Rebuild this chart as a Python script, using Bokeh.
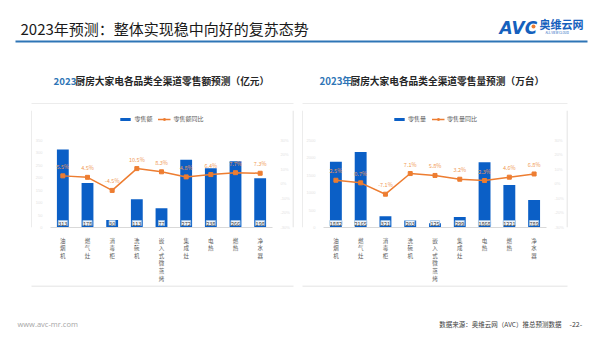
from bokeh.plotting import figure
from bokeh.models import (ColumnDataSource, FactorRange, Range1d, LinearAxis, LabelSet,
                          FixedTicker, PrintfTickFormatter, Legend, LegendItem)
from bokeh.layouts import column, row
from bokeh.embed import file_html
from bokeh.resources import INLINE
from bokeh.core.properties import value

FONT = "Noto Sans CJK SC"

categories = ["油烟机", "燃气灶", "消毒柜", "洗碗机", "嵌入式微蒸烤", "集成灶", "电热", "燃热", "净水器"]
sales_value = [313, 178, 30, 113, 77, 272, 238, 266, 198]
sales_value_yoy = [5.5, 4.5, -4.5, 10.5, 8.3, 4.8, 6.4, 7.7, 7.3]
sales_volume = [1882, 2165, 321, 203, 125, 299, 1868, 1221, 789]
sales_volume_yoy = [2.5, 0.7, -7.1, 7.1, 5.8, 3.2, 2.3, 4.6, 6.8]
value_ticks = [0, 50, 100, 150, 200, 250, 300, 350]
volume_ticks = [0, 500, 1000, 1500, 2000, 2500]
pct_ticks = [-30, -20, -10, 0, 10, 20, 30]

BLUE = "#0b5fc6"
ORANGE = "#ed7d31"
CARD = "#d9d9d9"

# frame: ~118 px tall; the axis ticks occupy the lower part, the legend sits in the top strip
HEADROOM = 118 / 88


def deco(width, height, y0, y1):
    f = figure(width=width, height=height, x_range=Range1d(0, width), y_range=Range1d(y0, y1),
               output_backend="svg", toolbar_location=None, x_axis_location=None,
               y_axis_location=None, min_border=0, min_border_left=0, min_border_right=0,
               min_border_top=0, min_border_bottom=0, outline_line_color=None)
    f.grid.visible = False
    return f


def make_chart(width, mb_left, mb_right, vals, yoys, ytop, yticks, bar_name, line_name):
    factors = ["\n".join(c) for c in categories]
    src = ColumnDataSource(dict(
        x=factors, v=vals, p=yoys, zero=[0] * len(vals),
        vlab=[str(v) for v in vals], plab=[f"{q:.1f}%" for q in yoys]))
    p = figure(width=width, height=181, x_range=FactorRange(factors=factors, range_padding=0),
               y_range=Range1d(0, ytop * HEADROOM), output_backend="svg", toolbar_location=None,
               min_border_left=mb_left, min_border_right=mb_right, min_border_top=6,
               min_border_bottom=55, outline_line_color=None)
    p.grid.visible = False
    p.extra_y_ranges = {"pct": Range1d(-30, -30 + 60 * HEADROOM)}

    p.yaxis.ticker = FixedTicker(ticks=yticks)
    for ax in [p.yaxis[0]]:
        ax.axis_line_color = None
        ax.major_tick_line_color = None
        ax.minor_tick_line_color = None
        ax.major_label_text_font_size = "4px"
        ax.major_label_text_color = "#e3e3e3"
        ax.major_label_standoff = 2
    rax = LinearAxis(y_range_name="pct", ticker=FixedTicker(ticks=pct_ticks),
                     formatter=PrintfTickFormatter(format="%d%%"))
    rax.axis_line_color = None
    rax.major_tick_line_color = None
    rax.minor_tick_line_color = None
    rax.major_label_text_font_size = "4px"
    rax.major_label_text_color = "#e3e3e3"
    rax.major_label_standoff = 2
    p.add_layout(rax, "right")

    xa = p.xaxis[0]
    xa.axis_line_color = CARD
    xa.major_tick_line_color = None
    xa.minor_tick_line_color = None
    xa.major_label_text_font_size = "5.5px"
    xa.major_label_text_font = FONT
    xa.major_label_text_color = "#595959"
    xa.major_label_text_line_height = 0.95
    xa.major_label_standoff = 3

    bars = p.vbar(x="x", top="v", width=0.48, source=src, fill_color=BLUE, line_color=None)
    ln = p.line(x="x", y="p", y_range_name="pct", source=src, line_color=ORANGE, line_width=1.5)
    sc = p.scatter(x="x", y="p", y_range_name="pct", source=src, marker="square", size=4,
                   fill_color=ORANGE, line_color=ORANGE)

    p.add_layout(LabelSet(x="x", y="p", text="plab", y_range_name="pct", source=src,
                          y_offset=9, text_align="center", text_baseline="middle",
                          text_font=value(FONT), text_font_size="5.5px", text_color="#f09a55"))
    p.add_layout(LabelSet(x="x", y="zero", text="vlab", source=src, y_offset=2,
                          text_align="center", text_baseline="bottom", text_font=value(FONT),
                          text_font_size="5.5px", text_color="#404040",
                          background_fill_color="#eef3fa", border_line_color="#9dc3e6",
                          border_line_width=0.8))

    leg = Legend(items=[LegendItem(label=bar_name, renderers=[bars]),
                        LegendItem(label=line_name, renderers=[ln, sc])],
                 orientation="horizontal", location="top_center", glyph_width=13,
                 glyph_height=4, label_height=8, label_standoff=3, spacing=3, padding=0,
                 margin=4, label_text_font=FONT, label_text_font_size="6px",
                 label_text_color="#595959", background_fill_alpha=0,
                 border_line_color=None)
    p.add_layout(leg, "center")
    return p


# header
h = deco(600, 104, 104, 0)
h.text(x=[20], y=[28], text=["2023年预测：整体实现稳中向好的复苏态势"], text_font=value(FONT),
       text_font_size="15px", text_color="#1a1a1a", text_baseline="middle", text_align="left")
h.segment(x0=[15], y0=[41], x1=[587], y1=[41], line_width=2, line_color="#2e75b6")
h.text(x=[499], y=[27], text=["AVC"], text_font=value("DejaVu Sans"), text_font_style="bold italic",
       text_font_size="17px", text_color="#1560bd", text_baseline="middle", text_align="left")
h.scatter(x=[533], y=[26], size=4, fill_color=ORANGE, line_color=None)
h.text(x=[539], y=[23], text=["奥维云网"], text_font=value(FONT), text_font_style="bold",
       text_font_size="11px", text_color="#1560bd", text_baseline="middle", text_align="left")
h.text(x=[545], y=[32], text=["ALL VIEW CLOUD"], text_font=value(FONT),
       text_font_size="3px", text_color="#1560bd", text_baseline="middle", text_align="left")
h.text(x=[53], y=[80], text=["2023"], text_font=value(FONT), text_font_style="bold",
       text_font_size="9.7px", text_color="#2e75b6", text_baseline="middle", text_align="left")
h.text(x=[75], y=[80], text=["厨房大家电各品类全渠道零售额预测（亿元）"], text_font=value(FONT),
       text_font_style="bold", text_font_size="9.7px", text_color="#262626",
       text_baseline="middle", text_align="left")
h.text(x=[319], y=[80], text=["2023年"], text_font=value(FONT), text_font_style="bold",
       text_font_size="9.7px", text_color="#2e75b6", text_baseline="middle", text_align="left")
h.text(x=[350], y=[80], text=["厨房大家电各品类全渠道零售量预测（万台）"], text_font=value(FONT),
       text_font_style="bold", text_font_size="9.7px", text_color="#262626",
       text_baseline="middle", text_align="left")
h.segment(x0=[31, 302], y0=[103.5, 103.5], x1=[293, 567], y1=[103.5, 103.5],
          line_width=1, line_color=CARD)

# middle row
sl = deco(32, 181, 0, 181)
sl.segment(x0=[31.5], y0=[0], x1=[31.5], y1=[181], line_color=CARD, line_width=1)
sm = deco(11, 181, 0, 181)
sm.segment(x0=[0.5, 10.5], y0=[0, 0], x1=[0.5, 10.5], y1=[181, 181], line_color=CARD, line_width=1)
sr = deco(34, 181, 0, 181)
sr.segment(x0=[0.5], y0=[0], x1=[0.5], y1=[181], line_color=CARD, line_width=1)

c1 = make_chart(260, 17, 12, sales_value, sales_value_yoy, 350, value_ticks,
                "零售额", "零售额同比")
c2 = make_chart(263, 17, 16, sales_volume, sales_volume_yoy, 2500, volume_ticks,
                "零售量", "零售量同比")

# footer
ft = deco(600, 52, 337, 285)
ft.segment(x0=[31, 302], y0=[285.5, 285.5], x1=[293, 567], y1=[285.5, 285.5],
           line_width=1, line_color=CARD)
ft.text(x=[17], y=[323], text=["www.avc-mr.com"], text_font=value("Open Sans"),
        text_font_size="7.5px", text_color="#a6a6a6", text_baseline="middle", text_align="left")
ft.text(x=[561], y=[323], text=["数据来源：奥维云网（AVC）推总预测数据"], text_font=value(FONT),
        text_font_size="6.5px", text_color="#404040", text_baseline="middle", text_align="right")
ft.text(x=[569], y=[323], text=["-22-"], text_font=value(FONT),
        text_font_size="7px", text_color="#404040", text_baseline="middle", text_align="left")

layout = column(h, row(sl, c1, sm, c2, sr, spacing=0), ft, spacing=0)

open("out.html", "w").write(file_html(layout, INLINE))
